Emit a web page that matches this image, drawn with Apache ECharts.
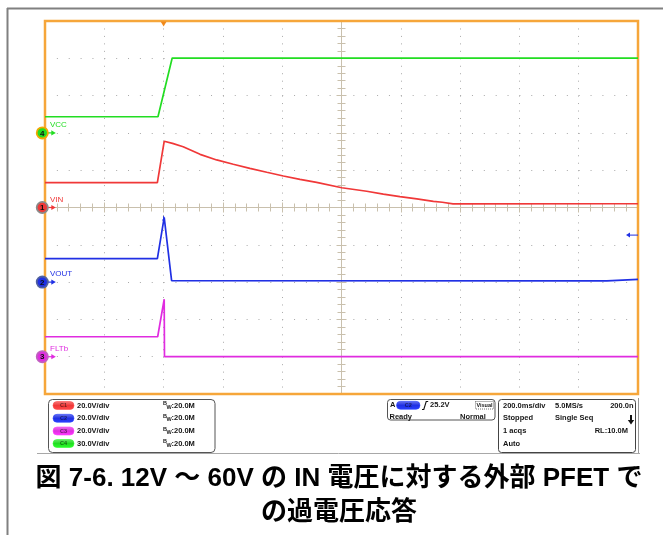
<!DOCTYPE html>
<html lang="ja">
<head>
<meta charset="utf-8">
<title>外部 PFET の過電圧応答</title>
<script src="https://cdn.jsdelivr.net/npm/echarts@6/dist/echarts.min.js"></script>
<style>
html,body{margin:0;padding:0;background:#fff;}
#chart{width:663px;height:535px;}
</style>
</head>
<body>
<div id="chart"></div>
<script>
// ---- captured traces: time in ms relative to the trigger, amplitude in volts ----
const vinMs  = [-400, -21, 2, 30, 66, 123, 179, 235, 291, 348, 404, 460, 516, 601, 685, 741, 797, 854, 910, 940, 976, 1505, 1600];
const vinV   = [13.3, 13.3, 35.5, 34.4, 32.6, 28.5, 25.5, 23.2, 21.0, 18.9, 16.9, 15.1, 13.5, 10.6, 8.7, 7.2, 5.8, 4.6, 3.3, 2.8, 1.9, 2.0, 2.0];

const voutMs = [-400, -21, 2, 27, 1495, 1500, 1600];
const voutV  = [12.6, 12.6, 34.7, 0.8, 0.7, 1.5, 1.5];

const fltbMs = [-400, -20, 2, 3, 1600];
const fltbV  = [10.7, 10.7, 30.8, 0.0, 0.0];

const vccMs  = [-400, -19, 29, 1600];
const vccV   = [13.0, 13.0, 60.2, 60.2];

// trigger: source C2, rising edge, level in volts
const trigLevelV = 25.2;

// channel settings: vertical scale and ground-marker position (divisions from screen centre)
const channels = [
  { key: 'VIN',  num: '1', color: '#f03838', ring: '#8a8a8a', vdiv: 20, zeroDiv: 0,  ms: vinMs,  v: vinV  },
  { key: 'VOUT', num: '2', color: '#2030e4', ring: '#5060a0', vdiv: 20, zeroDiv: -2, ms: voutMs, v: voutV },
  { key: 'FLTb', num: '3', color: '#e02ce0', ring: '#c060c0', vdiv: 20, zeroDiv: -4, ms: fltbMs, v: fltbV },
  { key: 'VCC',  num: '4', color: '#22dd22', ring: '#f0a800', vdiv: 30, zeroDiv: 2,  ms: vccMs,  v: vccV  }
];

// horizontal: 200 ms/div, trigger point 3 divisions left of centre
const MS_PER_DIV = 200;
const TRIG_DIV = -3;
const HALF_DIVS = 5;

const SCREEN = { left: 45, top: 21, width: 593, height: 373 };
const GRID_COL = '#a9a9a9';
const TICK_COL = '#c9c0ad';
const FONT = '"Liberation Sans", Arial, sans-serif';
const PANEL_PX = 7.5;

const chart = echarts.init(document.getElementById('chart'), null, { renderer: 'canvas' });

function gridAt(extra) {
  return Object.assign({ left: SCREEN.left, top: SCREEN.top, width: SCREEN.width, height: SCREEN.height,
    containLabel: false, outerBoundsMode: 'none' }, extra || {});
}

function divAxis(extra) {
  return Object.assign({
    type: 'value', min: -HALF_DIVS, max: HALF_DIVS, interval: 1, silent: true,
    axisLabel: { show: false },
    splitLine: { show: false },
    axisLine: { show: false },
    axisTick: { show: true, inside: true, length: 5, lineStyle: { color: TICK_COL, width: 1 } },
    minorTick: { show: true, splitNumber: 5, length: 4, lineStyle: { color: TICK_COL, width: 1 } }
  }, extra);
}

const centreLine = { show: true, onZero: true, lineStyle: { color: TICK_COL, width: 1 } };
const centreTick = { show: true, inside: true, length: 3, lineStyle: { color: TICK_COL, width: 1 } };
const centreMinor = { show: true, splitNumber: 5, length: 3, lineStyle: { color: TICK_COL, width: 1 } };

const xAxes = [
  divAxis({ gridIndex: 0, position: 'bottom',
    splitLine: { show: true, lineStyle: { color: GRID_COL, width: 1, type: [1, 6.46] } } }),
  divAxis({ gridIndex: 0, position: 'top' }),
  divAxis({ gridIndex: 1, position: 'bottom', axisLine: centreLine, axisTick: centreTick, minorTick: centreMinor }),
  divAxis({ gridIndex: 2, position: 'top', axisLine: centreLine, axisTick: centreTick, minorTick: centreMinor }),
  { type: 'value', gridIndex: 3, show: false,
    min: (-HALF_DIVS - TRIG_DIV) * MS_PER_DIV, max: (HALF_DIVS - TRIG_DIV) * MS_PER_DIV, interval: MS_PER_DIV }
];

const yAxes = [
  divAxis({ gridIndex: 0, position: 'left',
    splitLine: { show: true, lineStyle: { color: GRID_COL, width: 1, type: [1, 10.86] } } }),
  divAxis({ gridIndex: 0, position: 'right' }),
  divAxis({ gridIndex: 1, position: 'left', axisLine: centreLine, axisTick: centreTick, minorTick: centreMinor }),
  divAxis({ gridIndex: 2, position: 'right', axisLine: centreLine, axisTick: centreTick, minorTick: centreMinor })
];
channels.forEach(function (ch) {
  ch.axis = yAxes.length;
  yAxes.push({ type: 'value', gridIndex: 3, show: false,
    min: (-HALF_DIVS - ch.zeroDiv) * ch.vdiv, max: (HALF_DIVS - ch.zeroDiv) * ch.vdiv });
});

const series = [];

// waveforms
channels.forEach(function (ch) {
  series.push({
    type: 'line', name: ch.key, xAxisIndex: 4, yAxisIndex: ch.axis,
    data: ch.ms.map(function (t, i) { return [t, ch.v[i]]; }),
    showSymbol: false, symbol: 'none', silent: true, z: 3,
    lineStyle: { color: ch.color, width: 1.7 }
  });
});

// ground markers with channel number, arrow and name
channels.forEach(function (ch) {
  series.push({
    type: 'custom', xAxisIndex: 4, yAxisIndex: ch.axis, silent: true, z: 8,
    data: [[xAxes[4].min, 0]],
    renderItem: function (params, api) {
      const p = api.coord([api.value(0), api.value(1)]);
      const cx = p[0] - 2.7, cy = p[1];
      return { type: 'group', children: [
        { type: 'line', shape: { x1: cx + 5, y1: cy, x2: cx + 10, y2: cy }, style: { stroke: ch.color, lineWidth: 1.2 } },
        { type: 'polygon', shape: { points: [[cx + 9, cy - 2.6], [cx + 13.5, cy], [cx + 9, cy + 2.6]] }, style: { fill: ch.color } },
        { type: 'circle', shape: { cx: cx, cy: cy, r: 5.6 }, style: { fill: ch.color, stroke: ch.ring, lineWidth: 1.8 } },
        { type: 'text', x: cx, y: cy + 0.5, style: { text: ch.num, font: 'bold 8px ' + FONT, fill: '#111', align: 'center', verticalAlign: 'middle' } },
        { type: 'text', x: p[0] + 5, y: cy - 8, style: { text: ch.key, font: '8px ' + FONT, fill: ch.color, align: 'left', verticalAlign: 'middle' } }
      ] };
    }
  });
});

const vin = channels[0], vout = channels[1];

// trigger position (top edge) and small trigger tick on the centre line
series.push({
  type: 'custom', xAxisIndex: 4, yAxisIndex: vin.axis, silent: true, z: 8,
  data: [[0, yAxes[vin.axis].max]],
  renderItem: function (params, api) {
    const p = api.coord([api.value(0), api.value(1)]);
    return { type: 'group', children: [
      { type: 'polygon', shape: { points: [[p[0] - 3, p[1] + 0.5], [p[0] + 3, p[1] + 0.5], [p[0], p[1] + 5.5]] }, style: { fill: '#f08a1c' } }
    ] };
  }
});
series.push({
  type: 'custom', xAxisIndex: 4, yAxisIndex: vin.axis, silent: true, z: 8,
  data: [[0, 0]],
  renderItem: function (params, api) {
    const p = api.coord([api.value(0), api.value(1)]);
    return { type: 'polyline', shape: { points: [[p[0], p[1] + 8.5], [p[0], p[1] + 12.5], [p[0] - 1.5, p[1] + 12.5]] },
      style: { stroke: vout.color, lineWidth: 1, fill: null } };
  }
});

// trigger level arrow on the right edge (C2)
series.push({
  type: 'custom', xAxisIndex: 4, yAxisIndex: vout.axis, silent: true, z: 8,
  data: [[xAxes[4].max, trigLevelV]],
  renderItem: function (params, api) {
    const p = api.coord([api.value(0), api.value(1)]);
    return { type: 'group', children: [
      { type: 'line', shape: { x1: p[0] - 9, y1: p[1], x2: p[0], y2: p[1] }, style: { stroke: vout.color, lineWidth: 1 } },
      { type: 'polygon', shape: { points: [[p[0] - 12, p[1]], [p[0] - 8, p[1] - 2.5], [p[0] - 8, p[1] + 2.5]] }, style: { fill: vout.color } }
    ] };
  }
});

// ---- status panel below the screen ----
function T(x, y, text, size, extra) {
  return Object.assign({ type: 'text', x: x, y: y, silent: true,
    style: Object.assign({ text: text, font: 'bold ' + size + 'px ' + FONT, fill: '#151515', align: 'left', verticalAlign: 'middle' }, (extra || {})) });
}
function pill(x, y, w, label, color) {
  return [
    { type: 'rect', silent: true, shape: { x: x, y: y - 4, width: w, height: 8, r: 4 },
      style: { fill: new echarts.graphic.LinearGradient(0, 0, 0, 1, [
        { offset: 0, color: echarts.color.lift(color, 0.35) }, { offset: 0.5, color: color }, { offset: 1, color: echarts.color.lift(color, -0.3) }]),
        stroke: echarts.color.lift(color, -0.4), lineWidth: 0.6 } },
    T(x + w / 2, y + 0.3, label, 5.5, { align: 'center', fill: 'rgba(0,0,0,0.55)' })
  ];
}

const panelRows = [405.5, 418.3, 431.0, 443.5];
const chanScaleText = ['20.0V/div', '20.0V/div', '20.0V/div', '30.0V/div'];
const bwText = ':20.0M';

const graphics = [];
// frame of the figure
graphics.push({ type: 'line', silent: true, shape: { x1: 7.5, y1: 8, x2: 7.5, y2: 535 }, style: { stroke: '#808080', lineWidth: 2 } });
graphics.push({ type: 'line', silent: true, shape: { x1: 7, y1: 8.5, x2: 663, y2: 8.5 }, style: { stroke: '#808080', lineWidth: 2 } });
graphics.push({ type: 'line', silent: true, shape: { x1: 37, y1: 453.5, x2: 640, y2: 453.5 }, style: { stroke: '#a8a8a8', lineWidth: 1 } });

// channel box
graphics.push({ type: 'rect', silent: true, shape: { x: 48.5, y: 399.5, width: 166.5, height: 53, r: 4 }, style: { fill: '#fff', stroke: '#555', lineWidth: 1 } });
channels.forEach(function (ch, i) {
  const y = panelRows[i];
  pill(53, y, 21, 'C' + ch.num, ch.color).forEach(function (e) { graphics.push(e); });
  graphics.push(T(77, y, chanScaleText[i], PANEL_PX));
  graphics.push(T(163, y - 1.8, 'B', 5.5));
  graphics.push(T(166.5, y + 1.6, 'W', 5.5));
  graphics.push(T(171.5, y, bwText, PANEL_PX));
});

// trigger box
graphics.push({ type: 'rect', silent: true, shape: { x: 387.5, y: 399.5, width: 107.5, height: 20.5, r: 3 }, style: { fill: '#fff', stroke: '#555', lineWidth: 1 } });
graphics.push(T(390, 405.3, 'A', PANEL_PX));
pill(396.5, 405.3, 23.5, 'C2', vout.color).forEach(function (e) { graphics.push(e); });
graphics.push({ type: 'polyline', silent: true, shape: { points: [[422, 409.5], [423.8, 409.5], [426.2, 401.5], [428.2, 401.5]] }, style: { stroke: '#111', lineWidth: 1.1, fill: null } });
graphics.push(T(430, 405.3, trigLevelV.toFixed(1) + 'V', PANEL_PX));
graphics.push({ type: 'rect', silent: true, shape: { x: 475.5, y: 401.5, width: 18, height: 7.5 }, style: { fill: null, stroke: '#333', lineWidth: 0.7, lineDash: [1, 1] } });
graphics.push(T(484.5, 405.4, 'Visual', 5.5, { align: 'center' }));
graphics.push(T(389.5, 416.5, 'Ready', PANEL_PX));
graphics.push(T(460, 416.5, 'Normal', PANEL_PX));

// acquisition box
graphics.push({ type: 'rect', silent: true, shape: { x: 498.5, y: 399.5, width: 137, height: 53, r: 3 }, style: { fill: '#fff', stroke: '#444', lineWidth: 1 } });
graphics.push({ type: 'line', silent: true, shape: { x1: 638.5, y1: 398, x2: 638.5, y2: 453 }, style: { stroke: '#999', lineWidth: 1 } });
graphics.push(T(503, panelRows[0], '200.0ms/div', PANEL_PX));
graphics.push(T(555, panelRows[0], '5.0MS/s', PANEL_PX));
graphics.push(T(633.5, panelRows[0], '200.0n', PANEL_PX, { align: 'right' }));
graphics.push(T(503, panelRows[1], 'Stopped', PANEL_PX));
graphics.push(T(555, panelRows[1], 'Single Seq', PANEL_PX));
graphics.push({ type: 'rect', silent: true, shape: { x: 630, y: 415, width: 2, height: 5.5 }, style: { fill: '#111' } });
graphics.push({ type: 'polygon', silent: true, shape: { points: [[627.8, 420], [634.2, 420], [631, 424.5]] }, style: { fill: '#111' } });
graphics.push(T(503, panelRows[2], '1 acqs', PANEL_PX));
graphics.push(T(628, panelRows[2], 'RL:10.0M', PANEL_PX, { align: 'right' }));
graphics.push(T(503, panelRows[3], 'Auto', PANEL_PX));

// caption
const captionFont = 'bold 26px "Liberation Sans", "Noto Sans CJK JP", sans-serif';
graphics.push({ type: 'text', silent: true, x: 339, y: 479, style: { text: '図 7-6. 12V ～ 60V の IN 電圧に対する外部 PFET で', font: captionFont, fill: '#000', align: 'center', verticalAlign: 'middle' } });
graphics.push({ type: 'text', silent: true, x: 339, y: 513, style: { text: 'の過電圧応答', font: captionFont, fill: '#000', align: 'center', verticalAlign: 'middle' } });

chart.setOption({
  animation: false,
  backgroundColor: '#ffffff',
  grid: [
    gridAt({ show: true, borderColor: '#f6a63a', borderWidth: 2.5, backgroundColor: 'transparent', z: 1 }),
    gridAt(), gridAt(), gridAt()
  ],
  xAxis: xAxes,
  yAxis: yAxes,
  series: series,
  graphic: graphics
});
</script>
</body>
</html>
